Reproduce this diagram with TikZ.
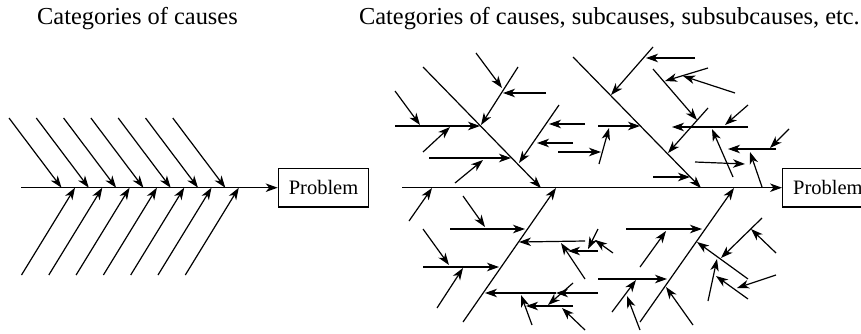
\documentclass[tikz,border=0pt]{standalone}
\usepackage{fontspec}
\setmainfont{Liberation Serif}
\usetikzlibrary{arrows.meta}

\begin{document}
\begin{tikzpicture}[x=1pt,y=-1pt,
  every node/.style={font=\fontsize{20.5}{24}\selectfont},
  bone/.style={line width=1.2pt},
  arr/.style={bone,-{Stealth[length=12pt,width=8.5pt,inset=3.5pt]}},
  box/.style={draw,line width=1.2pt,minimum height=38.5pt,inner xsep=10.5pt,inner ysep=0pt},
  ttl/.style={inner sep=0pt,font=\fontsize{24.4}{28}\selectfont}]

  \useasboundingbox (0,0) rectangle (861,333);

  % Titles
  \node[ttl,anchor=base west] (t1) at (37,24) {Categories of causes};
  \node[ttl,anchor=base east] (t2) at (860,24) {Categories of causes, subcauses, subsubcauses, etc.};

  % LEFT: categories only
  \node[box,anchor=west] (p1) at (277.7,187.7) {Problem};
  \coordinate (s1) at (21,187.7);
  \draw[arr] (s1) -- (p1);
  \foreach \i in {0,...,6}{
    \coordinate (u\i) at (9+27.3*\i,118);
    \coordinate (v\i) at (61.5+27.3*\i,187.7);
    \coordinate (w\i) at (21.5+27.3*\i,275);
    \coordinate (z\i) at (75+27.3*\i,187.7);
    \draw[arr] (u\i) -- (v\i);
    \draw[arr] (w\i) -- (z\i);
  }

  % RIGHT: spine
  \node[box,anchor=west] (p2) at (782,187.7) {Problem};
  \coordinate (s2) at (402,187.7);
  \draw[arr] (s2) -- (p2);
  \coordinate (e0) at (409,221); \coordinate (e1) at (432,188);
  \draw[arr] (e0) -- (e1);

  % Bone A (upper left)
  \coordinate (a0) at (423,67);  \coordinate (a1) at (541,188);
  \coordinate (a10) at (395,126); \coordinate (a11) at (480,126);
  \coordinate (a1a0) at (395,91); \coordinate (a1a1) at (420,125);
  \coordinate (a1b0) at (423,152); \coordinate (a1b1) at (450,127);
  \coordinate (a20) at (429,158); \coordinate (a21) at (511,158);
  \coordinate (a2a0) at (455,183); \coordinate (a2a1) at (483,160);
  \coordinate (a30) at (518,67); \coordinate (a31) at (481,125);
  \coordinate (a3a0) at (476,53); \coordinate (a3a1) at (502,88);
  \coordinate (a3b0) at (546,93); \coordinate (a3b1) at (503,93);
  \coordinate (a40) at (559,105); \coordinate (a41) at (519,163);
  \coordinate (a4a0) at (585,124); \coordinate (a4a1) at (549,124);
  \coordinate (a4b0) at (573,143); \coordinate (a4b1) at (537,143);
  \draw[arr] (a0) -- (a1);
  \draw[arr] (a10) -- (a11);
  \draw[arr] (a1a0) -- (a1a1);
  \draw[arr] (a1b0) -- (a1b1);
  \draw[arr] (a20) -- (a21);
  \draw[arr] (a2a0) -- (a2a1);
  \draw[arr] (a30) -- (a31);
  \draw[arr] (a3a0) -- (a3a1);
  \draw[arr] (a3b0) -- (a3b1);
  \draw[arr] (a40) -- (a41);
  \draw[arr] (a4a0) -- (a4a1);
  \draw[arr] (a4b0) -- (a4b1);

  % Bone B (upper right)
  \coordinate (b0) at (573,57);  \coordinate (b1) at (701,188);
  \coordinate (b10) at (598,126); \coordinate (b11) at (640,126);
  \coordinate (b1a0) at (599,164); \coordinate (b1a1) at (609,128);
  \coordinate (b1b0) at (558,152); \coordinate (b1b1) at (601,152);
  \coordinate (b20) at (653,47); \coordinate (b21) at (611,95);
  \coordinate (b2a0) at (695,58); \coordinate (b2a1) at (646,58);
  \coordinate (b40) at (708,108); \coordinate (b41) at (668,153);
  \coordinate (b30) at (653,69); \coordinate (b31) at (697,120);
  \coordinate (b3a0) at (708,68); \coordinate (b3a1) at (665,81);
  \coordinate (b3b0) at (735,93); \coordinate (b3b1) at (683,76);
  \coordinate (b50) at (748,127); \coordinate (b51) at (672,127);
  \coordinate (b5a0) at (748,105); \coordinate (b5a1) at (725,125);
  \coordinate (b5b0) at (733,177); \coordinate (b5b1) at (712,129);
  \coordinate (b60) at (776,149); \coordinate (b61) at (728,149);
  \coordinate (b6a0) at (789,129); \coordinate (b6a1) at (770,148);
  \coordinate (b6b0) at (762,187); \coordinate (b6b1) at (750,152);
  \coordinate (b70) at (695,162); \coordinate (b71) at (745,164);
  \coordinate (b80) at (653,177); \coordinate (b81) at (690,177);
  \draw[arr] (b0) -- (b1);
  \draw[arr] (b10) -- (b11);
  \draw[arr] (b1a0) -- (b1a1);
  \draw[arr] (b1b0) -- (b1b1);
  \draw[arr] (b20) -- (b21);
  \draw[arr] (b2a0) -- (b2a1);
  \draw[arr] (b40) -- (b41);
  \draw[arr] (b30) -- (b31);
  \draw[arr] (b3a0) -- (b3a1);
  \draw[arr] (b3b0) -- (b3b1);
  \draw[arr] (b50) -- (b51);
  \draw[arr] (b5a0) -- (b5a1);
  \draw[arr] (b5b0) -- (b5b1);
  \draw[arr] (b60) -- (b61);
  \draw[arr] (b6a0) -- (b6a1);
  \draw[arr] (b6b0) -- (b6b1);
  \draw[arr] (b70) -- (b71);
  \draw[arr] (b80) -- (b81);

  % Bone C (lower left)
  \coordinate (c0) at (463,322);  \coordinate (c1) at (556,188);
  \coordinate (c10) at (450,229); \coordinate (c11) at (525,229);
  \coordinate (c1a0) at (463,196); \coordinate (c1a1) at (485,227);
  \coordinate (c20) at (423,267); \coordinate (c21) at (499,267);
  \coordinate (c2a0) at (423,229); \coordinate (c2a1) at (449,265);
  \coordinate (c2b0) at (437,308); \coordinate (c2b1) at (463,268);
  \coordinate (c30) at (585,241); \coordinate (c31) at (519,242);
  \coordinate (c3a0) at (585,279); \coordinate (c3a1) at (561,243);
  \coordinate (c40) at (598,251); \coordinate (c41) at (568,251);
  \coordinate (c4a0) at (598,229); \coordinate (c4a1) at (588,249);
  \coordinate (c4b0) at (613,253); \coordinate (c4b1) at (595,240);
  \coordinate (c50) at (598,293); \coordinate (c5m) at (556,293); \coordinate (c51) at (485,293);
  \coordinate (c5a0) at (532,325); \coordinate (c5a1) at (521,295);
  \coordinate (c5b0) at (573,306); \coordinate (c5b1) at (526,306);
  \coordinate (c5c0) at (585,330); \coordinate (c5c1) at (562,308);
  \coordinate (c5d0) at (573,283); \coordinate (c5d1) at (548,305);
  \draw[arr] (c0) -- (c1);
  \draw[arr] (c10) -- (c11);
  \draw[arr] (c1a0) -- (c1a1);
  \draw[arr] (c20) -- (c21);
  \draw[arr] (c2a0) -- (c2a1);
  \draw[arr] (c2b0) -- (c2b1);
  \draw[arr] (c30) -- (c31);
  \draw[arr] (c3a0) -- (c3a1);
  \draw[arr] (c40) -- (c41);
  \draw[arr] (c4a0) -- (c4a1);
  \draw[arr] (c4b0) -- (c4b1);
  \draw[arr] (c50) -- (c5m);
  \draw[arr] (c5m) -- (c51);
  \draw[arr] (c5a0) -- (c5a1);
  \draw[arr] (c5b0) -- (c5b1);
  \draw[arr] (c5c0) -- (c5c1);
  \draw[arr] (c5d0) -- (c5d1);

  % Bone D (lower right)
  \coordinate (d0) at (640,322);  \coordinate (d1) at (734,188);
  \coordinate (d10) at (626,229); \coordinate (d11) at (702,229);
  \coordinate (d1a0) at (640,267); \coordinate (d1a1) at (666,231);
  \coordinate (d20) at (598,279); \coordinate (d21) at (667,279);
  \coordinate (d2a0) at (612,312); \coordinate (d2a1) at (636,280);
  \coordinate (d2b0) at (640,330); \coordinate (d2b1) at (627,296);
  \coordinate (d30) at (693,325); \coordinate (d31) at (666,287);
  \coordinate (d40) at (748,279); \coordinate (d41) at (697,242);
  \coordinate (d4a0) at (762,218); \coordinate (d4a1) at (721,258);
  \coordinate (d4b0) at (776,253); \coordinate (d4b1) at (751,229);
  \coordinate (d50) at (708,301); \coordinate (d51) at (717,259);
  \coordinate (d5a0) at (748,299); \coordinate (d5a1) at (716,276);
  \coordinate (d5b0) at (776,275); \coordinate (d5b1) at (737,288);
  \draw[arr] (d0) -- (d1);
  \draw[arr] (d10) -- (d11);
  \draw[arr] (d1a0) -- (d1a1);
  \draw[arr] (d20) -- (d21);
  \draw[arr] (d2a0) -- (d2a1);
  \draw[arr] (d2b0) -- (d2b1);
  \draw[arr] (d30) -- (d31);
  \draw[arr] (d40) -- (d41);
  \draw[arr] (d4a0) -- (d4a1);
  \draw[arr] (d4b0) -- (d4b1);
  \draw[arr] (d50) -- (d51);
  \draw[arr] (d5a0) -- (d5a1);
  \draw[arr] (d5b0) -- (d5b1);

\end{tikzpicture}
\end{document}
